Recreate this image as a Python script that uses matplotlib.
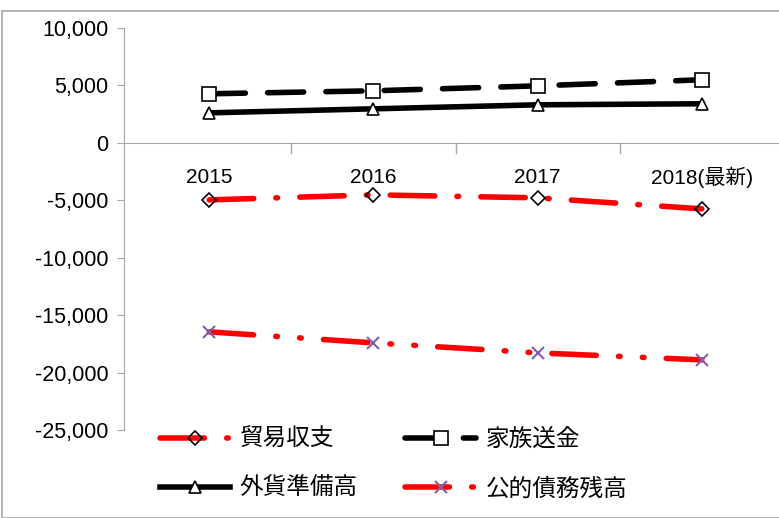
import numpy as np
import matplotlib.pyplot as plt
from matplotlib.ticker import FuncFormatter
from matplotlib.patches import Rectangle

plt.rcParams['font.family'] = ['Liberation Sans', 'Noto Sans CJK JP', 'DejaVu Sans']

years = ["2015", "2016", "2017", "2018(最新)"]
trade = [-4970, -4530, -4790, -5750]       # 貿易収支
remit = [4270, 4530, 4960, 5490]           # 家族送金
reserve = [2610, 2960, 3310, 3400]         # 外貨準備高
debt = [-16460, -17420, -18290, -18900]    # 公的債務残高

fig = plt.figure(figsize=(7.79, 5.18), dpi=100)
ax = fig.add_axes([0.159, 0.17, 0.841, 0.776])
fig.patches.append(Rectangle((0.003, 0.0), 1.2, 0.978, transform=fig.transFigure,
                             fill=False, ec="#a6a6a6", lw=1.2))

x = np.arange(len(years))
l1, = ax.plot(x, trade, color="red", lw=4, dashes=(8, 4, 0.3, 4), dash_capstyle="round",
              marker="D", ms=7, mfc="none", mec="black", mew=1.2, label="貿易収支")
l2, = ax.plot(x, remit, color="black", lw=4, dashes=(6.5, 4), dash_capstyle="round",
              marker="s", ms=10, mfc="white", mec="black", mew=1.2, label="家族送金")
l3, = ax.plot(x, reserve, color="black", lw=4, marker="^", ms=9, mfc="white",
              mec="black", mew=1.2, label="外貨準備高")
l4, = ax.plot(x, debt, color="red", lw=4, dashes=(8, 4, 0.3, 4, 0.3, 4), dash_capstyle="round",
              marker="x", ms=9, mec="#7f5fa8", mew=1.5, label="公的債務残高")

ax.set_xlim(-0.52, 3.47)
ax.set_ylim(-25000, 10000)
ax.set_yticks(np.arange(-25000, 10001, 5000))
ax.yaxis.set_major_formatter(FuncFormatter(lambda v, p: f"{int(v):,}"))
ax.tick_params(axis="y", labelsize=15.5, length=5, color="#a6a6a6", pad=6)

# category axis at y=0
ax.set_xticks([])
ax.spines["bottom"].set_position(("data", 0))
ax.spines["bottom"].set_color("#a6a6a6")
ax.spines["left"].set_color("#a6a6a6")
ax.spines["top"].set_visible(False)
ax.spines["right"].set_visible(False)
for b in [0.5, 1.5, 2.5]:
    ax.plot([b, b], [0, -900], color="#a6a6a6", lw=1, clip_on=False)
for i, lab in enumerate(years):
    ax.text(i, -3000, lab, ha="center", va="center", fontsize=15)

ax.legend([l1, l3, l2, l4], [l1.get_label(), l3.get_label(), l2.get_label(), l4.get_label()],
          loc="lower left", bbox_to_anchor=(0.022, -0.228), ncol=2, frameon=False,
          fontsize=17, handlelength=3.0, columnspacing=2.0, labelspacing=1.15,
          handletextpad=0.4)

fig.savefig("out.png", dpi=100)
